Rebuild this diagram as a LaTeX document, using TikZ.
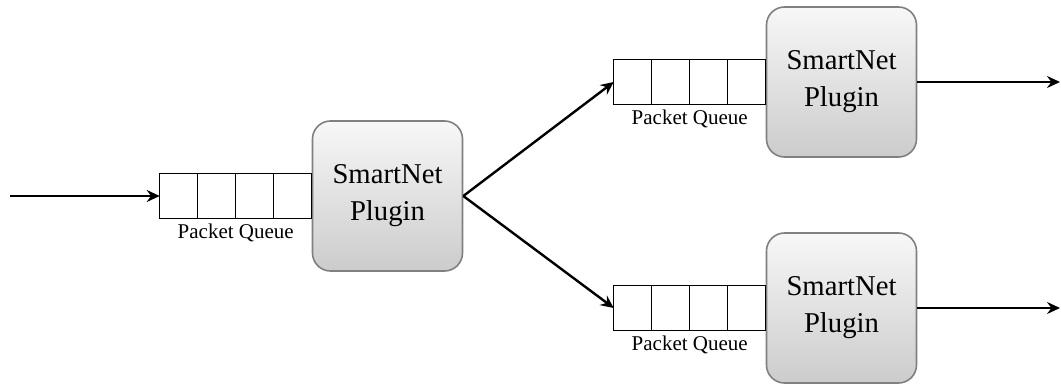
\documentclass[tikz,border=0pt]{standalone}
\usepackage{fontspec}
\setmainfont{Liberation Serif}
\usetikzlibrary{positioning,arrows.meta}

\tikzset{
	plugin/.style={draw=black!50, line width=0.8pt, rounded corners=9pt,
		top color=white!97!black, bottom color=black!20,
		minimum width=75pt, minimum height=75pt, align=center,
		font=\fontsize{14.35}{18.5}\selectfont},
	cell/.style={draw, line width=0.5pt, minimum width=19pt, minimum height=22.5pt,
		inner sep=0pt, outer sep=0pt},
	qlabel/.style={font=\fontsize{10.5}{12}\selectfont, inner sep=0pt},
	flow/.style={-{Stealth[length=6.5pt,width=6pt,inset=2.2pt]}, line width=1.2pt}
}

\begin{document}
\begin{tikzpicture}[x=0.5pt,y=-0.5pt]
	\useasboundingbox (0,0) rectangle (1061,385);
	\node[plugin] (p1) at (387.5,196) {SmartNet\\Plugin};
	\node[plugin] (p2) at (841.5,82) {SmartNet\\Plugin};
	\node[plugin] (p3) at (841.5,308) {SmartNet\\Plugin};
	% packet queues
	\node[cell] (a4) [left=0pt of p1] {};
	\node[cell] (a3) [left=0pt of a4] {};
	\node[cell] (a2) [left=0pt of a3] {};
	\node[cell] (a1) [left=0pt of a2] {};
	\node[cell] (b4) [left=0pt of p2] {};
	\node[cell] (b3) [left=0pt of b4] {};
	\node[cell] (b2) [left=0pt of b3] {};
	\node[cell] (b1) [left=0pt of b2] {};
	\node[cell] (c4) [left=0pt of p3] {};
	\node[cell] (c3) [left=0pt of c4] {};
	\node[cell] (c2) [left=0pt of c3] {};
	\node[cell] (c1) [left=0pt of c2] {};
	\node[qlabel] (l1) [below=2.5pt of a2.south east] {Packet Queue};
	\node[qlabel] (l2) [below=2.5pt of b2.south east] {Packet Queue};
	\node[qlabel] (l3) [below=2.5pt of c2.south east] {Packet Queue};
	\coordinate (in) at (10,196);
	\coordinate (out2) at (1060,82);
	\coordinate (out3) at (1060,308);
	\draw [flow] (in) -- (a1);
	\draw [flow] (p1.east) -- (b1.west);
	\draw [flow] (p1.east) -- (c1.west);
	\draw [flow] (p2) -- (out2);
	\draw [flow] (p3) -- (out3);
\end{tikzpicture}
\end{document}
